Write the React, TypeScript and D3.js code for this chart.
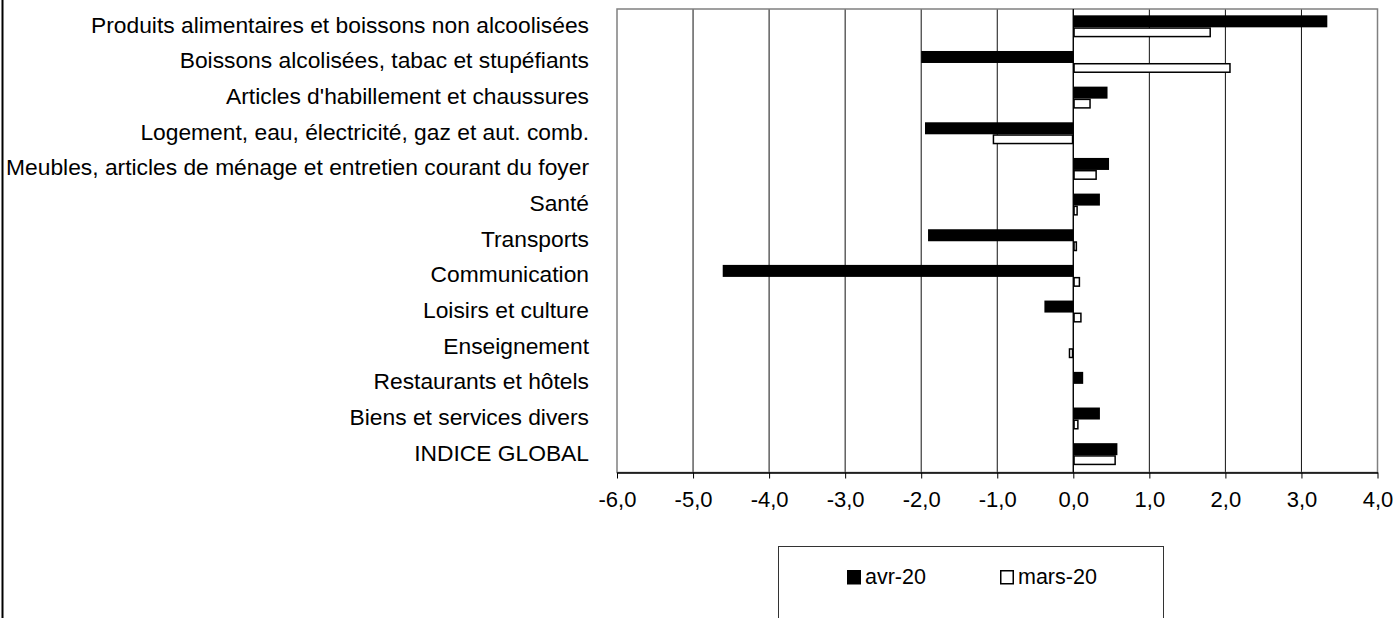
import React, { useEffect, useRef } from "react";
import * as d3 from "d3";

// categories, top to bottom
const categories = [
  "Produits alimentaires et boissons non alcoolisées",
  "Boissons alcolisées, tabac et stupéfiants",
  "Articles d'habillement et chaussures",
  "Logement, eau, électricité, gaz et aut. comb.",
  "Meubles, articles de ménage et entretien courant du foyer",
  "Santé",
  "Transports",
  "Communication",
  "Loisirs et culture",
  "Enseignement",
  "Restaurants et hôtels",
  "Biens et services divers",
  "INDICE GLOBAL",
];

const avr20 = [3.34, -2.0, 0.45, -1.95, 0.47, 0.35, -1.91, -4.61, -0.38, 0.0, 0.13, 0.35, 0.58];
const mars20 = [1.81, 2.07, 0.23, -1.06, 0.31, 0.06, 0.05, 0.09, 0.11, -0.06, 0.0, 0.07, 0.56];

const xTicks = [-6, -5, -4, -3, -2, -1, 0, 1, 2, 3, 4];

const W = 1397;
const H = 618;
const FONT = "Liberation Sans, Arial, sans-serif";

export default function App() {
  const ref = useRef<SVGSVGElement>(null);

  useEffect(() => {
    const svg = d3.select(ref.current);
    svg.selectAll("*").remove();

    const plot = { left: 617, right: 1377.5, top: 9, bottom: 472.5 };

    const x = d3.scaleLinear().domain([-6, 4]).range([plot.left, plot.right]);
    const y = d3
      .scaleBand()
      .domain(categories)
      .range([plot.top, plot.bottom])
      .padding(0);

    // outer frame, only the left edge shows
    svg
      .append("line")
      .attr("x1", 2.5)
      .attr("x2", 2.5)
      .attr("y1", 0)
      .attr("y2", H)
      .attr("stroke", "#000")
      .attr("stroke-width", 2);

    // gridlines
    svg
      .append("g")
      .selectAll("line")
      .data(xTicks.slice(1, -1))
      .enter()
      .append("line")
      .attr("x1", d => x(d))
      .attr("x2", d => x(d))
      .attr("y1", plot.top)
      .attr("y2", plot.bottom)
      .attr("stroke", "#111")
      .attr("stroke-width", 1);

    // plot border
    svg
      .append("rect")
      .attr("x", plot.left)
      .attr("y", plot.top)
      .attr("width", plot.right - plot.left)
      .attr("height", plot.bottom - plot.top)
      .attr("fill", "none")
      .attr("stroke", "#808080")
      .attr("stroke-width", 1.5);

    const bh = 11;

    // avr-20 bars (black)
    svg
      .append("g")
      .selectAll("rect")
      .data(categories)
      .enter()
      .append("rect")
      .attr("x", (d, i) => Math.min(x(0), x(avr20[i])))
      .attr("y", d => y(d)! + y.bandwidth() / 2 - bh - 0.5)
      .attr("width", (d, i) => Math.abs(x(avr20[i]) - x(0)))
      .attr("height", bh + 1)
      .attr("fill", "#000");

    // mars-20 bars (white, outlined)
    svg
      .append("g")
      .selectAll("rect")
      .data(categories.filter((d, i) => mars20[i] !== 0))
      .enter()
      .append("rect")
      .attr("x", d => {
        const v = mars20[categories.indexOf(d)];
        return Math.min(x(0), x(v)) + 0.75;
      })
      .attr("y", d => y(d)! + y.bandwidth() / 2 + 1.25)
      .attr("width", d => {
        const v = mars20[categories.indexOf(d)];
        return Math.max(Math.abs(x(v) - x(0)) - 1.5, 0.5);
      })
      .attr("height", 8.5)
      .attr("fill", "#fff")
      .attr("stroke", "#000")
      .attr("stroke-width", 1.5);

    // zero line
    svg
      .append("line")
      .attr("x1", x(0))
      .attr("x2", x(0))
      .attr("y1", plot.top)
      .attr("y2", plot.bottom)
      .attr("stroke", "#000")
      .attr("stroke-width", 1.2);

    // bottom axis
    const axis = svg
      .append("g")
      .attr("transform", "translate(0," + plot.bottom + ")")
      .call(
        d3
          .axisBottom(x)
          .tickValues(xTicks)
          .tickSize(6)
          .tickSizeOuter(0)
          .tickPadding(13)
          .tickFormat(d => (d as number).toFixed(1).replace(".", ","))
      );
    axis.select(".domain").attr("stroke", "#000").attr("stroke-width", 1.5);
    axis.selectAll(".tick line").attr("stroke", "#000");
    axis
      .selectAll(".tick text")
      .attr("fill", "#000")
      .style("font-family", FONT)
      .style("font-size", "22px");

    // category labels
    svg
      .append("g")
      .selectAll("text")
      .data(categories)
      .enter()
      .append("text")
      .attr("x", 589)
      .attr("y", d => y(d)! + y.bandwidth() / 2 + 6)
      .attr("text-anchor", "end")
      .style("font-family", FONT)
      .style("font-size", "22.8px")
      .attr("fill", "#000")
      .text(d => d);

    // legend
    const lg = svg.append("g");
    lg.append("rect")
      .attr("x", 778.5)
      .attr("y", 546.5)
      .attr("width", 385)
      .attr("height", 80)
      .attr("fill", "#fff")
      .attr("stroke", "#333")
      .attr("stroke-width", 1);

    const items = [
      { name: "avr-20", fill: "#000", x: 847 },
      { name: "mars-20", fill: "#fff", x: 1000 },
    ];
    items.forEach(it => {
      lg.append("rect")
        .attr("x", it.x + 0.75)
        .attr("y", 570.75)
        .attr("width", 12.5)
        .attr("height", 13)
        .attr("fill", it.fill)
        .attr("stroke", "#000")
        .attr("stroke-width", 1.5);
      lg.append("text")
        .attr("x", it.x + 18)
        .attr("y", 584)
        .style("font-family", FONT)
        .style("font-size", "21.5px")
        .attr("fill", "#000")
        .text(it.name);
    });
  }, []);

  return (
    <svg
      ref={ref}
      width={W}
      height={H}
      style={{ position: "absolute", left: 0, top: 0, background: "#fff" }}
    />
  );
}
